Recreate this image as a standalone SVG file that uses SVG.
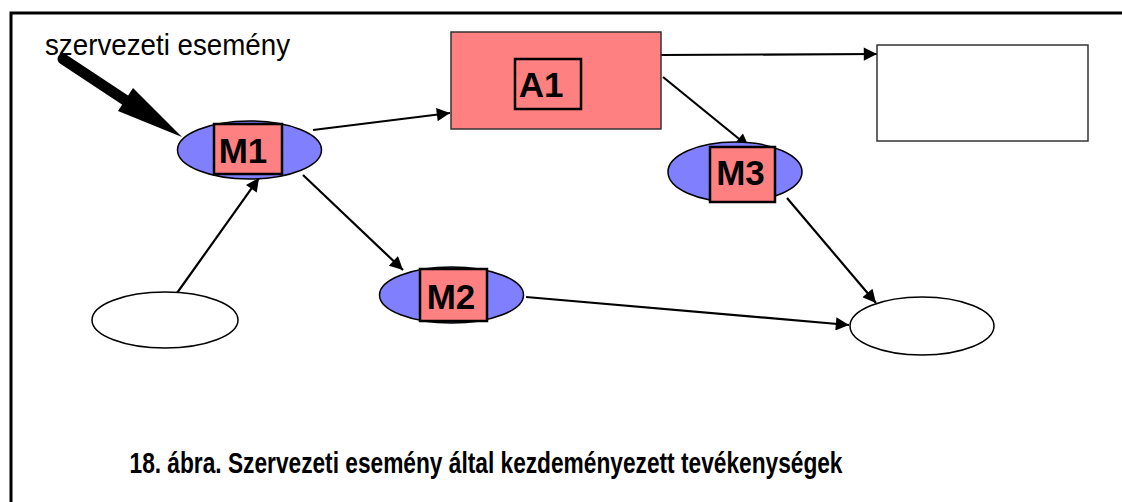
<svg xmlns="http://www.w3.org/2000/svg" width="1122" height="502" viewBox="0 0 1122 502">
<style>
.ell{fill:#8080ff;stroke:#000;stroke-width:1.5}
.wel{fill:#fff;stroke:#000;stroke-width:1.5}
.sq{fill:#ff8080;stroke:#000;stroke-width:2.5}
.lbl{font-family:"Liberation Sans",Arial,sans-serif;font-weight:bold;font-size:35px;fill:#000;text-anchor:middle}
.con{stroke:#000;stroke-width:2.2;fill:none;marker-end:url(#ah)}
</style>
<defs>
<marker id="ah" viewBox="0 0 10 10" refX="10" refY="5" markerWidth="7" markerHeight="6" markerUnits="strokeWidth" orient="auto">
<path d="M0,0 L10,5 L0,10 z" fill="#000"/>
</marker>
</defs>
<rect x="0" y="0" width="1122" height="502" fill="#fff"/>
<path d="M11,502 V13 H1122" fill="none" stroke="#000" stroke-width="3"/>
<g id="label-event">
<text x="45" y="55" font-family="'Liberation Sans',Arial,sans-serif" font-size="30" textLength="245" lengthAdjust="spacingAndGlyphs" fill="#000">szervezeti esemény</text>
</g>
<g id="connectors">
<line x1="63" y1="59" x2="125" y2="100" stroke="#000" stroke-width="11" stroke-linecap="round"/>
<path d="M118,111 L133,88 L182,137 z" fill="#000"/>
<line class="con" x1="313" y1="130" x2="450" y2="113"/>
<line class="con" x1="661" y1="55" x2="877" y2="54"/>
<line class="con" x1="663" y1="77" x2="749" y2="147"/>
<line class="con" x1="787" y1="198" x2="876" y2="303"/>
<line class="con" x1="303" y1="175" x2="403" y2="270"/>
<line class="con" x1="526" y1="297" x2="849" y2="325"/>
<line class="con" x1="177" y1="293" x2="259" y2="178"/>
</g>
<g id="M1">
<ellipse class="ell" cx="249.5" cy="150" rx="72" ry="29"/>
<rect class="sq" x="214" y="124" width="68" height="50"/>
<text class="lbl" x="243" y="163">M1</text>
</g>
<g id="A1">
<rect x="451" y="32" width="210" height="97" fill="#ff8080" stroke="#333" stroke-width="1.5"/>
<rect class="sq" x="515" y="59" width="66" height="50" stroke-width="2"/>
<text class="lbl" x="541" y="97">A1</text>
</g>
<g id="box-right">
<rect x="877" y="45" width="211" height="96" fill="#fff" stroke="#333" stroke-width="1.5"/>
</g>
<g id="M3">
<ellipse class="ell" cx="735" cy="172" rx="67" ry="30"/>
<rect class="sq" x="710" y="147" width="65" height="55"/>
<text class="lbl" x="740.5" y="185">M3</text>
</g>
<g id="M2">
<ellipse class="ell" cx="451.5" cy="295" rx="72" ry="28"/>
<rect class="sq" x="420" y="269" width="67" height="52"/>
<text class="lbl" x="451" y="309">M2</text>
</g>
<g id="ellipse-bottom-left">
<ellipse class="wel" cx="165" cy="320" rx="73" ry="28"/>
</g>
<g id="ellipse-bottom-right">
<ellipse class="wel" cx="922" cy="326" rx="72" ry="29"/>
</g>
<g id="caption">
<text x="486" y="473" font-family="'Liberation Sans',Arial,sans-serif" font-weight="bold" font-size="29" text-anchor="middle" textLength="713" lengthAdjust="spacingAndGlyphs" fill="#000">18. ábra. Szervezeti esemény által kezdeményezett tevékenységek</text>
</g>
</svg>
